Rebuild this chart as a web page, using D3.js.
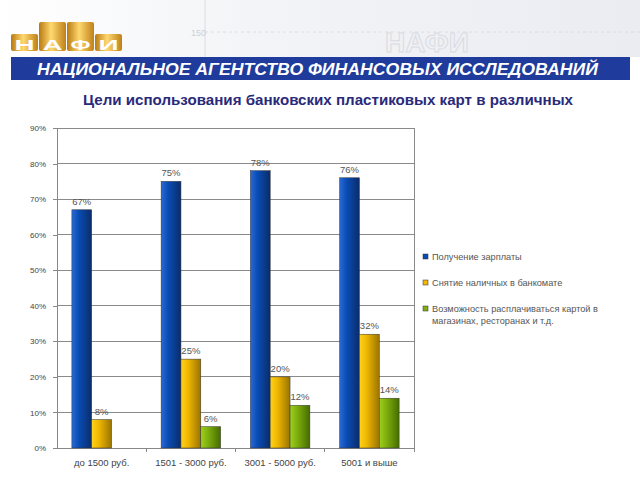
<html lang="ru">
<head>
<meta charset="utf-8">
<title>НАФИ - цели использования карт</title>
<script src="https://cdn.jsdelivr.net/npm/d3@7"></script>
<style>
  body { margin: 0; background: #fff; }
  .axis path, .axis line { stroke: #888; shape-rendering: crispEdges; }
  .axis text { font-family: "Liberation Sans", Arial, sans-serif; fill: #444; }
</style>
</head>
<body>
<script>
// ---- data ----
var categories = ["до 1500 руб.", "1501 - 3000 руб.", "3001 - 5000 руб.", "5001 и выше"];
var seriesNames = ["Получение зарплаты", "Снятие наличных в банкомате",
                   "Возможность расплачиваться картой в|магазинах, ресторанах и т.д."];
var salary = [67, 75, 78, 76];
var cash   = [8, 25, 20, 32];
var pay    = [null, 6, 12, 14];
var yTicks = [0, 10, 20, 30, 40, 50, 60, 70, 80, 90];
var logoLetters = ["Н", "А", "Ф", "И"];

var series = [salary, cash, pay];
var colors = [
  ["#2a6ad6", "#0a4cb4", "#0a2c6a"],
  ["#ffd21a", "#f0b800", "#9a7400"],
  ["#9ed01e", "#7fb00e", "#456c00"]
];

var w = 640, h = 480;
var svg = d3.select("body").append("svg").attr("width", w).attr("height", h);
var defs = svg.append("defs");

// background of the header
var bg = defs.append("linearGradient").attr("id", "hdr").attr("x1", 0).attr("x2", 1);
bg.append("stop").attr("offset", "0").attr("stop-color", "#ffffff");
bg.append("stop").attr("offset", "0.4").attr("stop-color", "#f3f4f7");
bg.append("stop").attr("offset", "1").attr("stop-color", "#eaecf1");
svg.append("rect").attr("x", 0).attr("y", 0).attr("width", w).attr("height", 57).attr("fill", "url(#hdr)");

// faint map-like lines in the header
var hdrLines = svg.append("g").attr("stroke", "#d6d8df").attr("fill", "none").attr("stroke-width", 0.8);
hdrLines.append("line").attr("x1", 205).attr("x2", 205).attr("y1", 0).attr("y2", 57);
hdrLines.append("line").attr("x1", 205).attr("x2", 640).attr("y1", 32).attr("y2", 32).attr("stroke-dasharray", "3,3");
svg.append("text").attr("x", 191).attr("y", 36).attr("font-size", 9).attr("fill", "#cdd0d8")
  .attr("font-family", "Liberation Sans, sans-serif").text("150");
svg.append("text").attr("x", 385).attr("y", 52).attr("font-size", 28).attr("font-weight", "bold")
  .attr("fill", "none").attr("stroke", "#d9dbe2").attr("stroke-width", 1)
  .attr("font-family", "Liberation Sans, sans-serif").text("НАФИ");

// logo
var gold = defs.append("linearGradient").attr("id", "gold").attr("x1", 0).attr("x2", 1);
gold.append("stop").attr("offset", "0").attr("stop-color", "#b87a10");
gold.append("stop").attr("offset", "0.45").attr("stop-color", "#ffd870");
gold.append("stop").attr("offset", "1").attr("stop-color", "#c08018");
var logoTops = [34, 22, 22, 34];
var logo = svg.append("g");
logoLetters.forEach(function(l, i) {
  var x = 11 + i * 28;
  logo.append("rect").attr("x", x).attr("y", logoTops[i]).attr("width", 27)
    .attr("height", 51 - logoTops[i]).attr("rx", 2).attr("fill", "url(#gold)");
  logo.append("text").attr("x", x + 13.5).attr("y", 49.5).attr("text-anchor", "middle")
    .attr("font-family", "Liberation Sans, sans-serif").attr("font-weight", "bold")
    .attr("font-size", 15).attr("fill", "#fff")
    .attr("textLength", 20).attr("lengthAdjust", "spacingAndGlyphs").text(l);
});

// banner
svg.append("rect").attr("x", 11).attr("y", 57).attr("width", 619).attr("height", 23).attr("fill", "#1f3c9c");
svg.append("text").attr("x", 37).attr("y", 75)
  .attr("font-family", "Liberation Sans Narrow, Liberation Sans, sans-serif")
  .attr("font-weight", "bold").attr("font-style", "italic").attr("font-size", 16)
  .attr("fill", "#fff").attr("textLength", 561).attr("lengthAdjust", "spacingAndGlyphs")
  .text("НАЦИОНАЛЬНОЕ  АГЕНТСТВО  ФИНАНСОВЫХ  ИССЛЕДОВАНИЙ");

// title
svg.append("text").attr("x", 83).attr("y", 105)
  .attr("font-family", "Liberation Sans, sans-serif").attr("font-weight", "bold")
  .attr("font-size", 14).attr("fill", "#2a2a7a")
  .attr("textLength", 490).attr("lengthAdjust", "spacingAndGlyphs")
  .text("Цели использования банковских пластиковых карт в различных");

// ---- chart ----
var plot = {left: 57, right: 414, top: 128, bottom: 448};

var x0 = d3.scaleBand().domain(categories).range([plot.left, plot.right]).paddingInner(0).paddingOuter(0);
var barW = x0.bandwidth() / 4.5;
var x1 = d3.scaleBand().domain([0, 1, 2]).range([0, barW * 3]);
var y = d3.scaleLinear().domain([0, 90]).range([plot.bottom, plot.top]);

// gradients for bars
colors.forEach(function(c, i) {
  var g = defs.append("linearGradient").attr("id", "bar" + i).attr("x1", 0).attr("x2", 1);
  g.append("stop").attr("offset", "0").attr("stop-color", c[0]);
  g.append("stop").attr("offset", "0.35").attr("stop-color", c[1]);
  g.append("stop").attr("offset", "1").attr("stop-color", c[2]);
});

// gridlines
svg.append("g").selectAll("line").data(yTicks.slice(1)).enter().append("line")
  .attr("x1", plot.left).attr("x2", plot.right)
  .attr("y1", function(d) { return y(d); }).attr("y2", function(d) { return y(d); })
  .attr("stroke", "#8a8a8a").attr("shape-rendering", "crispEdges");
svg.append("line").attr("x1", plot.right).attr("x2", plot.right)
  .attr("y1", plot.top).attr("y2", plot.bottom).attr("stroke", "#8a8a8a")
  .attr("shape-rendering", "crispEdges");

var yAxis = d3.axisLeft(y).tickValues(yTicks).tickSize(4).tickPadding(7)
  .tickFormat(function(d) { return d + "%"; });
svg.append("g").attr("class", "axis").attr("transform", "translate(" + plot.left + ",0)").call(yAxis)
  .selectAll("text").style("font-size", "8px");

var xAxis = d3.axisBottom(x0).tickSize(0).tickPadding(11);
var xg = svg.append("g").attr("class", "axis").attr("transform", "translate(0," + plot.bottom + ")").call(xAxis);
xg.select(".domain").attr("d", "M" + plot.left + ",0H" + plot.right);
xg.selectAll("text").style("font-size", "9.5px");
// category separator ticks
xg.selectAll(".sep").data(categories).enter().append("line")
  .attr("x1", function(d) { return x0(d) + x0.bandwidth(); })
  .attr("x2", function(d) { return x0(d) + x0.bandwidth(); })
  .attr("y1", 0).attr("y2", 4).attr("stroke", "#888");

// bars
var groups = svg.append("g").selectAll("g").data(categories).enter().append("g")
  .attr("transform", function(d) { return "translate(" + (x0(d) + barW * 0.75) + ",0)"; });

series.forEach(function(s, si) {
  groups.filter(function(d, i) { return s[i] != null; }).append("rect")
    .attr("x", x1(si))
    .attr("width", x1.bandwidth())
    .attr("y", function(d, i) { return y(s[categories.indexOf(d)]); })
    .attr("height", function(d) { return plot.bottom - y(s[categories.indexOf(d)]); })
    .attr("fill", "url(#bar" + si + ")")
    .attr("stroke", "#333").attr("stroke-width", 0.5);
  groups.filter(function(d, i) { return s[i] != null; }).append("text")
    .attr("x", x1(si) + x1.bandwidth() / 2)
    .attr("y", function(d) { return y(s[categories.indexOf(d)]) - 5; })
    .attr("text-anchor", "middle")
    .attr("font-family", "Liberation Sans, sans-serif").attr("font-size", 9.5).attr("fill", "#555")
    .text(function(d) { return s[categories.indexOf(d)] + "%"; });
});

// legend
var legendY = [257, 283, 309];
var legend = svg.append("g");
seriesNames.forEach(function(name, i) {
  legend.append("rect").attr("x", 423).attr("y", legendY[i] - 3).attr("width", 5).attr("height", 5)
    .attr("fill", colors[i][1]).attr("stroke", "#333").attr("stroke-width", 0.5);
  var t = legend.append("text").attr("x", 432).attr("y", legendY[i] + 3)
    .attr("font-family", "Liberation Sans, sans-serif").attr("font-size", 9.2).attr("fill", "#555");
  name.split("|").forEach(function(line, li) {
    t.append("tspan").attr("x", 432).attr("dy", li ? 12 : 0).text(line);
  });
});
</script>
</body>
</html>
